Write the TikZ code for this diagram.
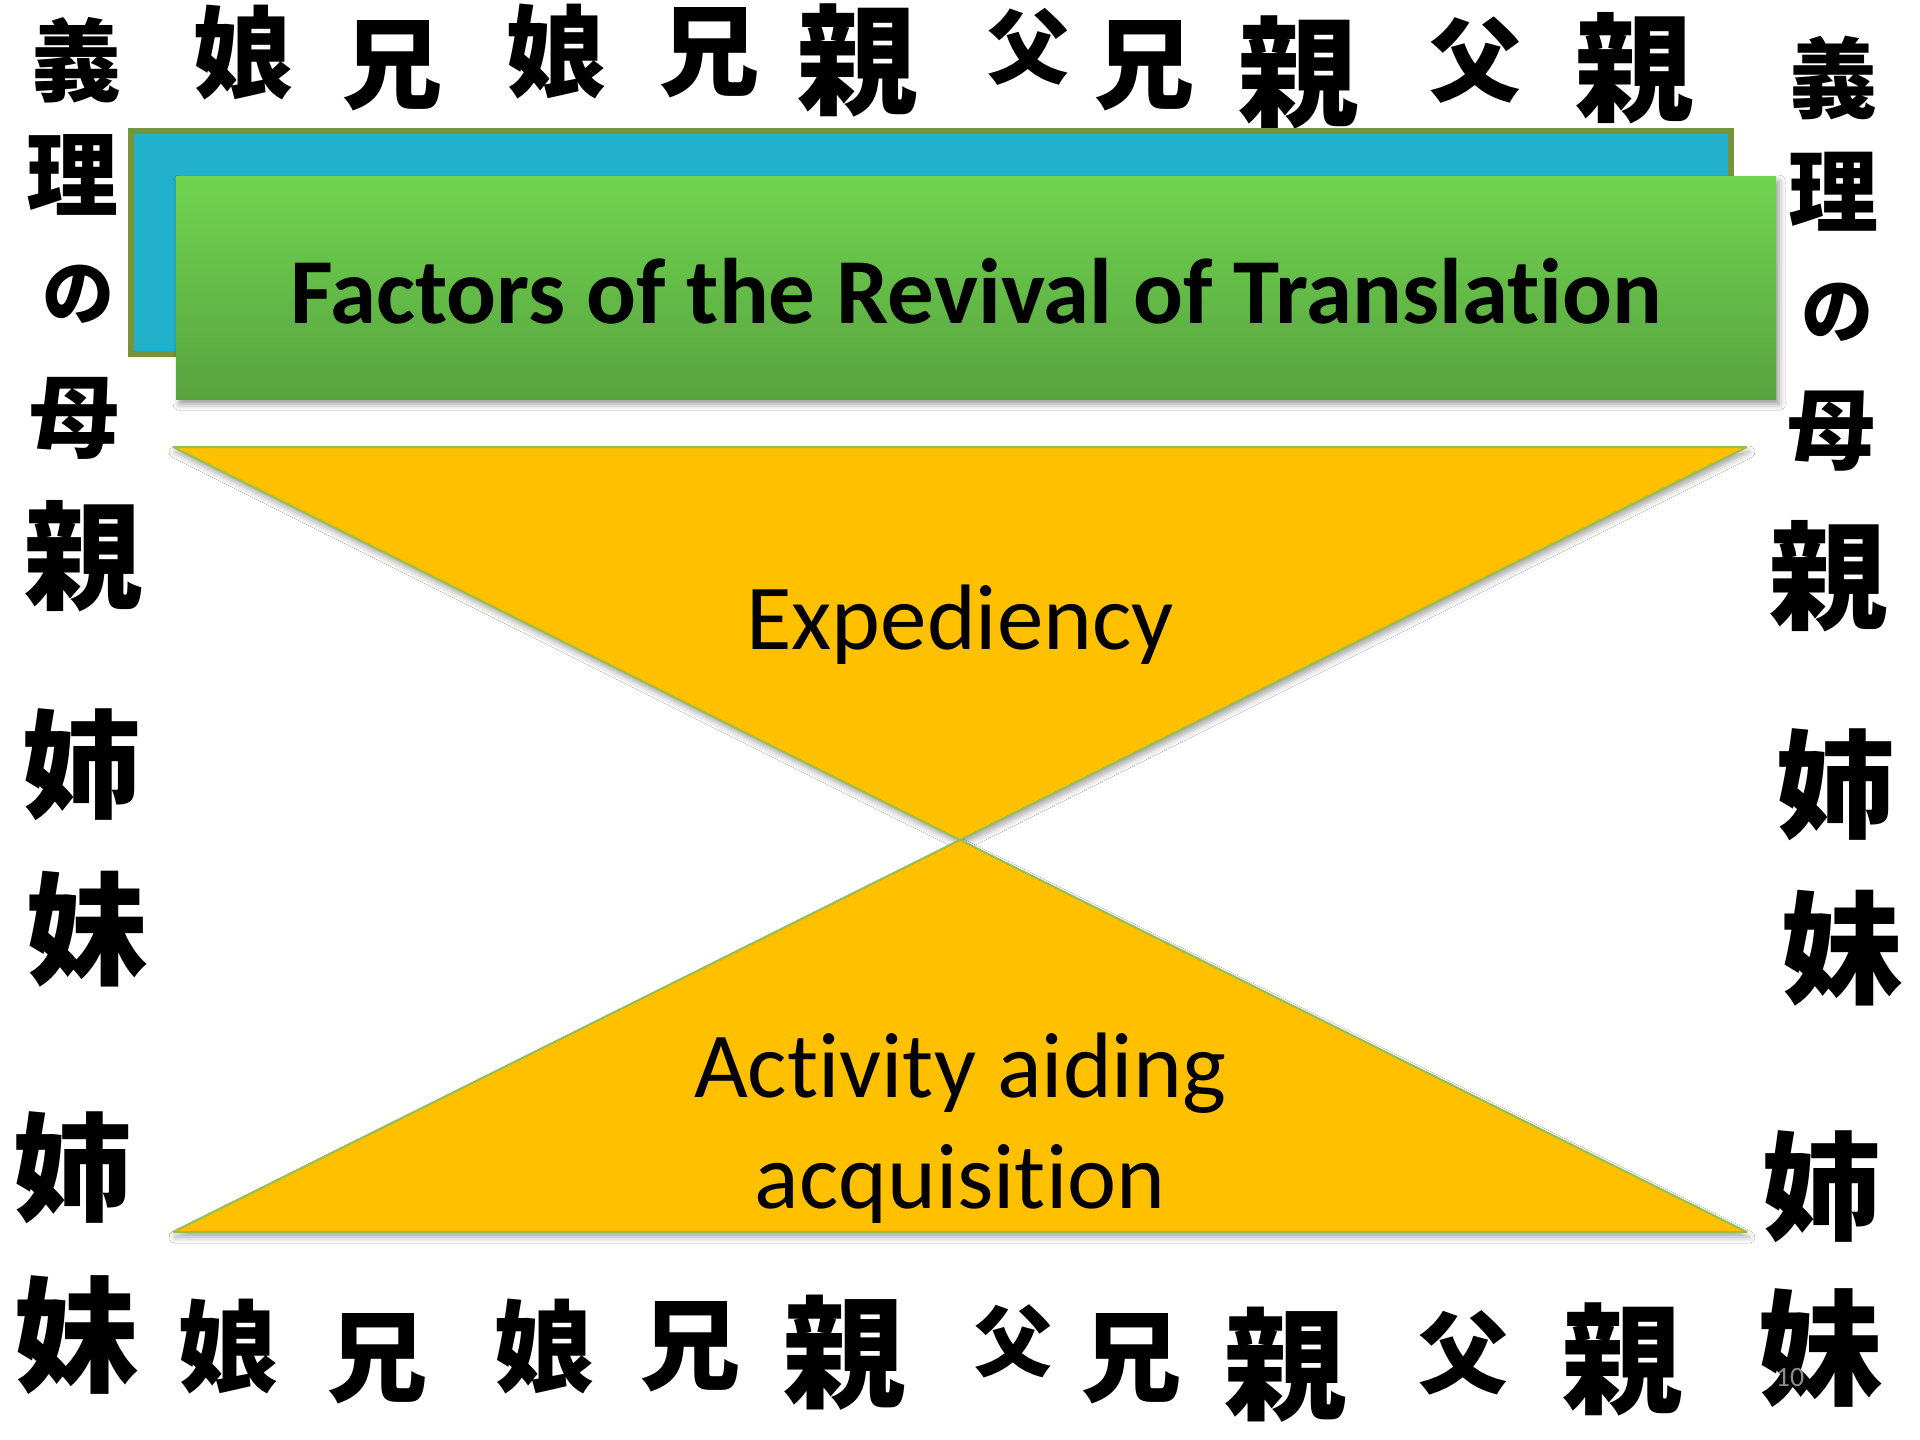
\documentclass[tikz,border=0pt]{standalone}
\usepackage{fontspec}
\setmainfont{Carlito}[Ligatures=NoCommon]
\newfontfamily\cjk{Noto Sans CJK JP}
\usetikzlibrary{shadows.blur}
\definecolor{cyanbox}{RGB}{33,177,202}
\definecolor{olivebd}{RGB}{119,147,60}
\definecolor{greentop}{RGB}{112,212,80}
\definecolor{greenbot}{RGB}{88,163,62}
\definecolor{gold}{RGB}{255,192,0}
\definecolor{trigedge}{RGB}{150,190,80}
\definecolor{pagegray}{RGB}{140,140,140}
\begin{document}
\begin{tikzpicture}[x=1pt,y=-1pt,
  kj/.style={inner sep=0pt, text=black},
  bigtext/.style={inner sep=0pt, text=black, font=\fontsize{93}{111}\selectfont},
  tri/.style={fill=gold, draw=trigedge, line width=2pt, line join=bevel,
    blur shadow={shadow xshift=2pt, shadow yshift=-5pt, shadow blur radius=6pt, shadow opacity=35}},
]
\useasboundingbox (0,0) rectangle (1920,1440);
\fill[white] (0,0) rectangle (1920,1440);

% kanji border
\foreach \c/\x/\y/\s [count=\i] in {
  義/76/60/90, 娘/243/53/100, 兄/392/66/100, 娘/556/52/100, 兄/709/53/100,
  親/857/60/120, 父/1028/47/82, 兄/1144/66/100, 親/1298/72/120, 父/1475/60/92,
  親/1634/68/118, 義/1833/78/88,
  理/73/175/92, の/78/294/72, 母/74/418/90, 親/83/556/118, 姉/82/765/118,
  妹/88/929/122, 姉/72/1168/118, 妹/77/1335/125,
  理/1833/192/90, の/1837/312/72, 母/1831/431/88, 親/1828/576/118, 姉/1835/785/118,
  妹/1842/948/122, 姉/1821/1187/118, 妹/1821/1348/125,
  娘/228/1347/100, 兄/377/1359/100, 娘/544/1347/100, 兄/690/1347/100,
  親/844/1353/122, 父/1013/1341/78, 兄/1131/1359/100, 親/1285/1365/122,
  父/1463/1353/90, 親/1622/1359/120}
  \node[kj, font={\cjk\bfseries\fontsize{\s}{\s}\selectfont}] (k\i) at (\x,\y) {\c};

% title boxes
\node[draw=olivebd, line width=6pt, fill=cyanbox, inner sep=0pt,
      minimum width=1600pt, minimum height=223pt, anchor=north west] (back) at (128,128) {};
\node[top color=greentop, bottom color=greenbot, inner sep=0pt,
      minimum width=1600pt, minimum height=223pt, anchor=north west,
      blur shadow={shadow xshift=3pt, shadow yshift=-5pt, shadow blur radius=6pt, shadow opacity=40}] (front) at (176,176) {};
\node[inner sep=0pt, anchor=base, font=\bfseries\fontsize{93}{110}\selectfont] (title)
  at (976,323) {Factors of the Revival of Translation};

% hourglass
\coordinate (tl) at (173,447);
\coordinate (tr) at (1747,447);
\coordinate (ap) at (960,840);
\coordinate (bl) at (173,1232);
\coordinate (br) at (1747,1232);
\draw[tri] (tl) -- (tr) -- (ap) -- cycle;
\draw[tri] (ap) -- (br) -- (bl) -- cycle;

\node[bigtext, anchor=base] (exp) at (960,649) {Expediency};
\node[bigtext, align=center] (act) at (960,1128) {Activity aiding\\acquisition};

\node[inner sep=0pt, text=pagegray, font=\fontsize{28}{30}\selectfont] (page) at (1790,1377) {10};
\end{tikzpicture}
\end{document}
